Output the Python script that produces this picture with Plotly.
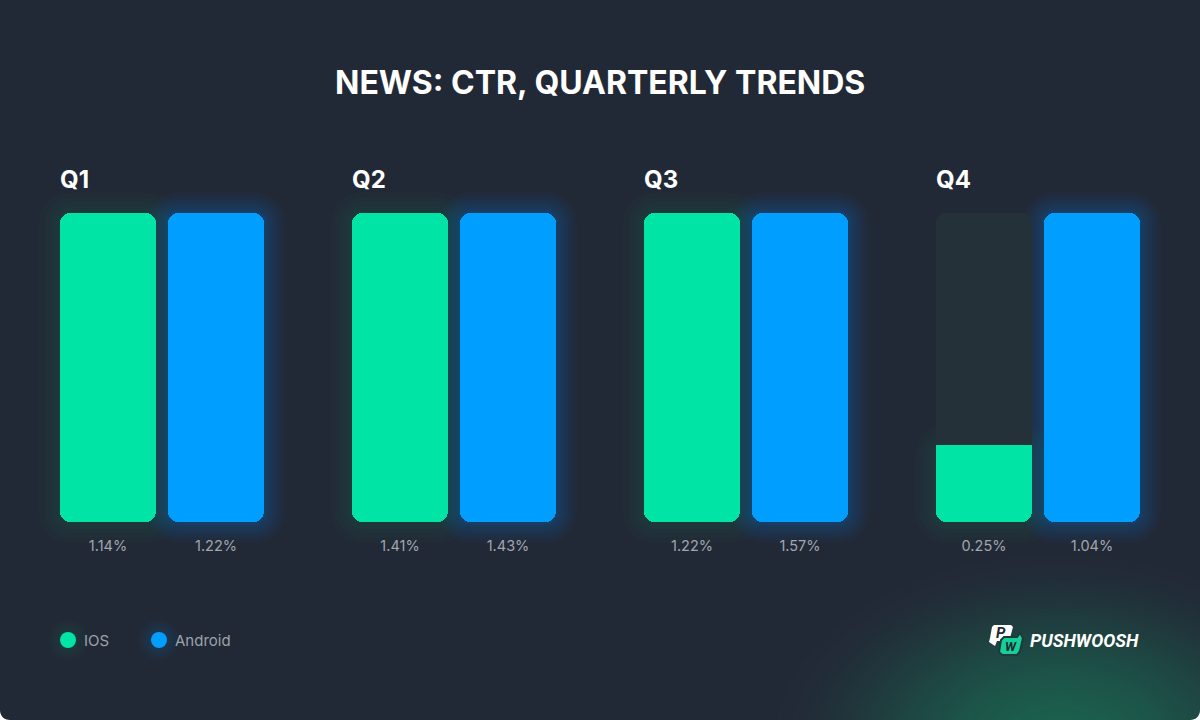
import plotly.graph_objects as go

# Data
quarters = ["Q1", "Q2", "Q3", "Q4"]
ios_ctr = [1.14, 1.41, 1.22, 0.25]
android_ctr = [1.22, 1.43, 1.57, 1.04]

# bars saturate at 1%, the axis stops there
scale_max = 1.0

GREEN = "#00e5a5"
BLUE = "#009fff"
TRACK = "#253139"
BG = "#222936"

W, H = 1200, 720
PLOT_TOP, PLOT_BOTTOM = 213, 522
GROUP_STEP = 292
FIRST_GROUP = 162
BAR_W = 96
BAR_OFFSET = 54


def px_x(px):
    # pixel column -> paper x
    return px / W


def px_y(py):
    # pixel row -> paper y
    return (PLOT_BOTTOM - py) / (PLOT_BOTTOM - PLOT_TOP)


def rounded_path(x0, y0, x1, y1, r):
    r = min(r, (x1 - x0) / 2, (y1 - y0) / 2)
    k = r * 0.45
    pts = [
        f"M{px_x(x0 + r)},{px_y(y0)}",
        f"L{px_x(x1 - r)},{px_y(y0)}",
        f"C{px_x(x1 - k)},{px_y(y0)} {px_x(x1)},{px_y(y0 + k)} {px_x(x1)},{px_y(y0 + r)}",
        f"L{px_x(x1)},{px_y(y1 - r)}",
        f"C{px_x(x1)},{px_y(y1 - k)} {px_x(x1 - k)},{px_y(y1)} {px_x(x1 - r)},{px_y(y1)}",
        f"L{px_x(x0 + r)},{px_y(y1)}",
        f"C{px_x(x0 + k)},{px_y(y1)} {px_x(x0)},{px_y(y1 - k)} {px_x(x0)},{px_y(y1 - r)}",
        f"L{px_x(x0)},{px_y(y0 + r)}",
        f"C{px_x(x0)},{px_y(y0 + k)} {px_x(x0 + k)},{px_y(y0)} {px_x(x0 + r)},{px_y(y0)}",
        "Z",
    ]
    return " ".join(pts)


def poly_path(points):
    return "M" + " L".join(f"{px_x(x)},{px_y(y)}" for x, y in points) + " Z"


def path_shape(path, color, layer="below", line=None):
    return dict(type="path", path=path, xref="paper", yref="paper", fillcolor=color,
                line=dict(width=2 if line else 0, color=line), layer=layer)


def circle_shape(cx, cy, rx, ry, color, layer="below"):
    return dict(type="circle", xref="paper", yref="paper",
                x0=px_x(cx - rx), x1=px_x(cx + rx),
                y0=px_y(cy + ry), y1=px_y(cy - ry),
                fillcolor=color, line_width=0, layer=layer)


def glow_shapes(cx, value, rgb, layers, strength):
    shapes = []
    top = PLOT_BOTTOM - (PLOT_BOTTOM - PLOT_TOP) * min(value, scale_max) / scale_max
    for i in range(layers, 0, -1):
        grow = 21 * (i / layers) ** 1.6
        shapes.append(path_shape(
            rounded_path(cx - BAR_W / 2 - grow, top - grow, cx + BAR_W / 2 + grow, PLOT_BOTTOM + grow, 10 + grow),
            f"rgba({rgb},{strength})"))
    return shapes


positions = [FIRST_GROUP + GROUP_STEP * i for i in range(len(quarters))]
ios_x = [p - BAR_OFFSET for p in positions]
android_x = [p + BAR_OFFSET for p in positions]
bar_x = ios_x + android_x
bar_values = ios_ctr + android_ctr

fig = go.Figure()


def add_bars(x, values, color):
    # an explicit base makes plotly round all four corners
    capped = [min(v, scale_max) for v in values]
    fig.add_trace(go.Bar(x=x, y=capped, base=[0] * len(x), width=BAR_W,
                         marker=dict(color=color, cornerradius=10, line_width=0), showlegend=False))
    # bars under the cap get a square top
    low_x = [a for a, v in zip(x, capped) if v < scale_max]
    low = [v for v in capped if v < scale_max]
    if low:
        fig.add_trace(go.Bar(x=low_x, y=[v / 2 for v in low], base=[v / 2 for v in low], width=BAR_W,
                             marker=dict(color=color, line_width=0), showlegend=False))


# Q4 iOS does not reach the cap: dark track behind it
track_x = [x for x, v in zip(ios_x, ios_ctr) if v < scale_max]
add_bars(track_x, [scale_max] * len(track_x), TRACK)
add_bars(ios_x, ios_ctr, GREEN)
add_bars(android_x, android_ctr, BLUE)

# Background: radial green patch bottom right
shapes = []
bg_rgb = (34, 41, 54)
spot_rgb = (27, 97, 78)
for i in range(60, 0, -1):
    f = i / 60
    t = (1 - f * f) ** 2
    col = tuple(round(a + (b - a) * t) for a, b in zip(bg_rgb, spot_rgb))
    shapes.append(circle_shape(1060, 745, 300 * f, 200 * f, f"rgb{col}"))

for x, v in zip(ios_x, ios_ctr):
    shapes += glow_shapes(x, v, "0,229,165", 6, 0.02)
for x, v in zip(android_x, android_ctr):
    shapes += glow_shapes(x, v, "0,159,255", 12, 0.026)

# Legend swatches
for g in range(12, 0, -3):
    shapes.append(circle_shape(159, 640, 8 + g, 8 + g, "rgba(0,159,255,0.03)"))
    shapes.append(circle_shape(68, 640, 8 + g, 8 + g, "rgba(0,229,165,0.02)"))
shapes.append(circle_shape(68, 640, 8, 8, GREEN, "above"))
shapes.append(circle_shape(159, 640, 8, 8, BLUE, "above"))

# Logo bubbles
white_bubble = [(994, 625), (1011, 625), (1013, 627), (1010, 638), (1007, 641), (997, 641),
                (995, 646), (989, 642), (990, 638), (992, 627)]
green_bubble = [(1004, 637), (1017, 637), (1020, 633), (1023, 638), (1020, 651), (1017, 655),
                (1002, 655), (999, 652), (1001, 640)]
shapes.append(path_shape(poly_path(white_bubble), "#ffffff", "above"))
shapes.append(path_shape(poly_path(green_bubble), "#14cf97", "above", line="#20393c"))

# White page corners at the bottom of the card
r = 10
shapes.append(path_shape(
    f"M{px_x(0)},{px_y(H - r)} C{px_x(0)},{px_y(H - 4)} {px_x(4)},{px_y(H)} {px_x(r)},{px_y(H)} L{px_x(0)},{px_y(H)} Z",
    "#ffffff", "above"))
shapes.append(path_shape(
    f"M{px_x(W)},{px_y(H - r)} C{px_x(W)},{px_y(H - 4)} {px_x(W - 4)},{px_y(H)} {px_x(W - r)},{px_y(H)} L{px_x(W)},{px_y(H)} Z",
    "#ffffff", "above"))

annotations = [dict(text="<b>NEWS: CTR, QUARTERLY TRENDS</b>", x=px_x(600), y=px_y(82), xref="paper", yref="paper",
                    showarrow=False, xanchor="center", yanchor="middle",
                    font=dict(family="Inter", size=32, color="#ffffff"))]
for p, q in zip(positions, quarters):
    annotations.append(dict(text=f"<b>{q}</b>", x=px_x(p - 104), y=px_y(179), xref="paper", yref="paper",
                            showarrow=False, xanchor="left", yanchor="middle",
                            font=dict(family="Inter", size=24, color="#ffffff")))
for label, px in [("IOS", 82), ("Android", 173)]:
    annotations.append(dict(text=label, x=px_x(px), y=px_y(640), xref="paper", yref="paper",
                            showarrow=False, xanchor="left", yanchor="middle",
                            font=dict(family="Inter", size=15, color="#9ca3ab")))
annotations.append(dict(text="<b><i>PUSHWOOSH</i></b>", x=px_x(1028), y=px_y(640), xref="paper", yref="paper",
                        showarrow=False, xanchor="left", yanchor="middle",
                        font=dict(family="Roboto", size=18, color="#ffffff")))
annotations.append(dict(text="<b><i>P</i></b>", x=px_x(1001), y=px_y(633), xref="paper", yref="paper",
                        showarrow=False, xanchor="center", yanchor="middle",
                        font=dict(family="Roboto", size=15, color=BG)))
annotations.append(dict(text="<b><i>W</i></b>", x=px_x(1011), y=px_y(646), xref="paper", yref="paper",
                        showarrow=False, xanchor="center", yanchor="middle",
                        font=dict(family="Roboto", size=13, color=BG)))

fig.update_layout(
    width=W, height=H,
    margin=dict(l=0, r=0, t=PLOT_TOP, b=H - PLOT_BOTTOM, autoexpand=False),
    paper_bgcolor=BG, plot_bgcolor="rgba(0,0,0,0)",
    barmode="overlay", showlegend=False, bargap=0,
    shapes=shapes, annotations=annotations,
    xaxis=dict(range=[0, W], showgrid=False, zeroline=False, showline=False,
               tickmode="array", tickvals=bar_x, ticktext=[f"{v:.2f}%" for v in bar_values],
               ticks="outside", ticklen=11, tickcolor="rgba(0,0,0,0)",
               tickfont=dict(family="Inter", size=14.5, color="#a0a6ae")),
    yaxis=dict(range=[0, scale_max], visible=False),
)

# the page's default body margin would push the card off by 8px
fig.write_html("out.html", config={"displayModeBar": False}, post_script="document.body.style.margin='0';")
